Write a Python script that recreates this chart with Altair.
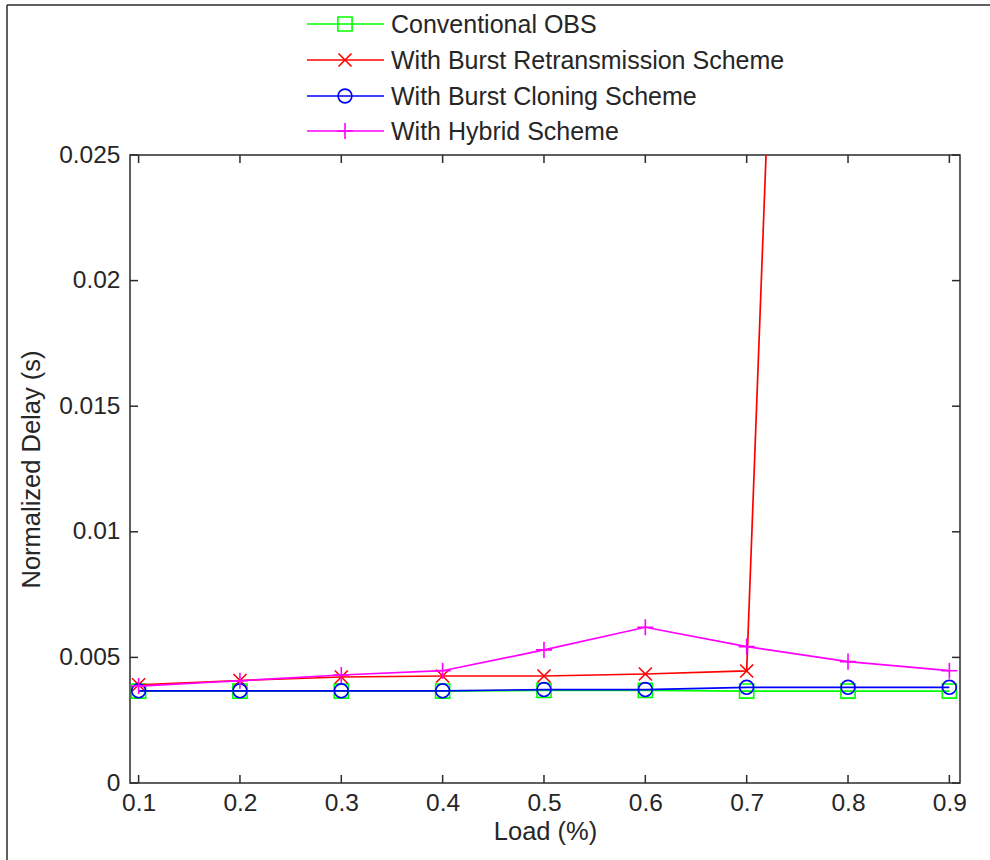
import altair as alt
import pandas as pd

# Offered load values (x axis)
load = [0.1, 0.2, 0.3, 0.4, 0.5, 0.6, 0.7, 0.8, 0.9]

# Normalized delay (s) for each scheme
conventional = [0.00366, 0.00366, 0.00366, 0.00366, 0.00369, 0.00369, 0.00366, 0.00366, 0.00366]
retransmission = [0.00391, 0.00408, 0.00422, 0.00426, 0.00426, 0.00434, 0.00446, 0.112, 0.19]
cloning = [0.00367, 0.00367, 0.00367, 0.00367, 0.00372, 0.00372, 0.00381, 0.00381, 0.00381]
hybrid = [0.00386, 0.00407, 0.00430, 0.00447, 0.00530, 0.00620, 0.00543, 0.00483, 0.00447]

series_names = [
    "Conventional OBS",
    "With Burst Retransmission Scheme",
    "With Burst Cloning Scheme",
    "With Hybrid Scheme",
]
series_values = [conventional, retransmission, cloning, hybrid]
series_colors = ["#00ff00", "#ff0000", "#0000ff", "#ff00ff"]
series_shapes = [
    "square",
    "M-1,-1L1,1M-1,1L1,-1",
    "circle",
    "M0,-1L0,1M-1,0L1,0",
]
series_sizes = [200, 170, 190, 260]

x_ticks = [0.1, 0.2, 0.3, 0.4, 0.5, 0.6, 0.7, 0.8, 0.9]
y_ticks = [0, 0.005, 0.01, 0.015, 0.02, 0.025]

W, H = 830, 628
FONT = "Liberation Sans"
AXIS_COLOR = "#2b2b2b"
TEXT_COLOR = "#262626"

xs = alt.Scale(domain=[0.0915, 0.9105], nice=False, zero=False)
ys = alt.Scale(domain=[0, 0.025], nice=False, zero=True)

x_axis = alt.Axis(values=x_ticks, format=".1f", title="Load (%)", ticks=False,
                  domain=False, grid=False, labelPadding=8, titlePadding=5)
y_axis = alt.Axis(values=y_ticks, format="~g", title="Normalized Delay (s)", ticks=False,
                  domain=False, grid=False, labelPadding=10, titlePadding=14)

layers = []
for name, vals, col, shp, sz in zip(series_names, series_values, series_colors,
                                     series_shapes, series_sizes):
    df = pd.DataFrame({"load": load, "delay": vals, "series": name})
    base = alt.Chart(df).encode(
        x=alt.X("load:Q", scale=xs, axis=x_axis),
        y=alt.Y("delay:Q", scale=ys, axis=y_axis),
    )
    layers.append(base.mark_line(color=col, strokeWidth=1.7, clip=True))
    layers.append(base.mark_point(color=col, shape=shp, size=sz, filled=False,
                                  strokeWidth=1.6, opacity=1, clip=True))

# Inward tick marks on all four sides of the box
xt = pd.DataFrame({"load": x_ticks})
yt = pd.DataFrame({"delay": y_ticks})
TL = 8
for y0, y1 in [(H, H - TL), (0, TL)]:
    layers.append(alt.Chart(xt).mark_rule(color=AXIS_COLOR, strokeWidth=1.5).encode(
        x=alt.X("load:Q", scale=xs, axis=x_axis),
        y=alt.value(y0), y2=alt.value(y1)))
for x0, x1 in [(0, TL), (W, W - TL)]:
    layers.append(alt.Chart(yt).mark_rule(color=AXIS_COLOR, strokeWidth=1.5).encode(
        y=alt.Y("delay:Q", scale=ys, axis=y_axis),
        x=alt.value(x0), x2=alt.value(x1)))

# Legend placed above the axes
one = pd.DataFrame({"k": [0]})
LEG_X0, LEG_X1, LEG_MX, LEG_TX = 307 - 130, 384 - 130, 345 - 130, 391 - 130
leg_rows = [24 - 155, 60 - 155, 96 - 155, 131 - 155]
for name, col, shp, sz, ry in zip(series_names, series_colors, series_shapes,
                                   series_sizes, leg_rows):
    layers.append(alt.Chart(one).mark_rule(color=col, strokeWidth=1.7).encode(
        x=alt.value(LEG_X0), x2=alt.value(LEG_X1), y=alt.value(ry)))
    layers.append(alt.Chart(one).mark_point(color=col, shape=shp, size=sz, filled=False,
                                            strokeWidth=1.6, opacity=1).encode(
        x=alt.value(LEG_MX), y=alt.value(ry)))
    layers.append(alt.Chart(one).mark_text(text=name, align="left", baseline="middle",
                                           font=FONT, fontSize=25, color=TEXT_COLOR,
                                           dy=1).encode(
        x=alt.value(LEG_TX), y=alt.value(ry)))

# Figure frame (left and top edges)
layers.append(alt.Chart(one).mark_rule(color=AXIS_COLOR, strokeWidth=1.5).encode(
    x=alt.value(7 - 130), y=alt.value(5 - 155), y2=alt.value(860 - 155)))
layers.append(alt.Chart(one).mark_rule(color=AXIS_COLOR, strokeWidth=1.5).encode(
    x=alt.value(7 - 130), x2=alt.value(990 - 130), y=alt.value(5 - 155)))

chart = alt.layer(*layers).properties(
    width=W, height=H,
    autosize=alt.AutoSizeParams(type="none"),
    padding={"left": 130, "top": 155, "right": 30, "bottom": 77},
    background="white",
).configure_view(
    stroke=AXIS_COLOR, strokeWidth=1.5, fill="white",
).configure_axis(
    labelFont=FONT, labelFontSize=24.5, labelColor=TEXT_COLOR,
    titleFont=FONT, titleFontSize=25.5, titleFontWeight="normal", titleColor=TEXT_COLOR,
)

chart.save("out.html", embed_options={"renderer": "svg", "actions": False})
